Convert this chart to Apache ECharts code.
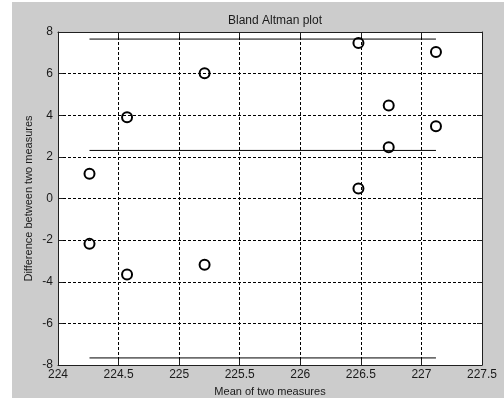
<!DOCTYPE html>
<html>
<head>
<meta charset="utf-8">
<script src="https://cdn.jsdelivr.net/npm/echarts@6/dist/echarts.min.js"></script>
<style>
html,body{margin:0;padding:0;background:#ffffff;}
#wrap{position:relative;width:504px;height:398px;background:#ffffff;}
#chart{position:absolute;left:12px;top:2px;width:492px;height:396px;background:#cccccc;}
</style>
</head>
<body>
<div id="wrap"><div id="chart"></div></div>
<script>
// Data
const means = [224.26, 224.26, 224.57, 224.57, 225.21, 225.21, 226.48, 226.48, 226.73, 226.73, 227.12, 227.12];
const diffs = [1.19, -2.18, 3.90, -3.65, 6.02, -3.18, 7.47, 0.48, 4.47, 2.46, 7.04, 3.47];
const limitNames = ['upper', 'mean', 'lower'];
const limitValues = [7.66, 2.31, -7.66];
const xTicks = [224, 224.5, 225, 225.5, 226, 226.5, 227, 227.5];
const yTicks = [-8, -6, -4, -2, 0, 2, 4, 6, 8];

const FONT = "'Liberation Sans', Arial, sans-serif";
const TXT = '#1a1a1a';
const AX = '#202020';

const points = means.map((m, i) => [m, diffs[i]]);
const xMinData = Math.min(...means);
const xMaxData = Math.max(...means);

const chart = echarts.init(document.getElementById('chart'), null, {renderer: 'canvas'});

const gridLine = {show: true, lineStyle: {color: '#000000', width: 1, type: [3, 2]}};
const axLine = {show: true, onZero: false, lineStyle: {color: AX, width: 1}};
const tick = {show: true, inside: true, length: 5, lineStyle: {color: AX, width: 1}};

const limitSeries = limitValues.map((v, i) => ({
  name: limitNames[i],
  type: 'line',
  xAxisIndex: 0,
  yAxisIndex: 0,
  data: [[xMinData, v], [xMaxData, v]],
  symbol: 'none',
  lineStyle: {color: '#000000', width: 1},
  silent: true,
  z: 2
}));

chart.setOption({
  animation: false,
  backgroundColor: '#cccccc',
  title: {
    text: 'Bland Altman plot',
    left: 258,
    top: 8,
    textAlign: 'center',
    textStyle: {fontFamily: FONT, fontSize: 12, fontWeight: 'normal', color: TXT}
  },
  grid: {
    left: 46, right: 22, top: 30, bottom: 33,
    containLabel: false,
    outerBoundsMode: 'none',
    show: true, backgroundColor: '#ffffff', borderWidth: 0
  },
  xAxis: [{
    type: 'value', position: 'bottom',
    min: xTicks[0], max: xTicks[xTicks.length - 1], interval: 0.5,
    name: 'Mean of two measures', nameLocation: 'middle', nameGap: 21,
    nameMoveOverlap: false,
    nameTextStyle: {fontFamily: FONT, fontSize: 11, color: TXT},
    axisLine: axLine, axisTick: tick,
    axisLabel: {fontFamily: FONT, fontSize: 12, color: TXT, margin: 4,
      showMinLabel: true, showMaxLabel: true},
    splitLine: gridLine
  }, {
    type: 'value', position: 'top',
    min: xTicks[0], max: xTicks[xTicks.length - 1], interval: 0.5,
    axisLine: axLine, axisTick: tick,
    axisLabel: {show: false}, splitLine: {show: false}
  }],
  yAxis: [{
    type: 'value', position: 'left',
    min: yTicks[0], max: yTicks[yTicks.length - 1], interval: 2,
    name: 'Difference between two measures', nameLocation: 'middle', nameGap: 24,
    nameMoveOverlap: false,
    nameTextStyle: {fontFamily: FONT, fontSize: 11, color: TXT},
    axisLine: axLine, axisTick: tick,
    axisLabel: {fontFamily: FONT, fontSize: 12, color: TXT, margin: 5,
      showMinLabel: true, showMaxLabel: true},
    splitLine: gridLine
  }, {
    type: 'value', position: 'right',
    min: yTicks[0], max: yTicks[yTicks.length - 1], interval: 2,
    axisLine: axLine, axisTick: tick,
    axisLabel: {show: false}, splitLine: {show: false}
  }],
  series: limitSeries.concat([{
    name: 'points',
    type: 'scatter',
    xAxisIndex: 0,
    yAxisIndex: 0,
    data: points,
    symbol: 'circle',
    symbolSize: 10,
    itemStyle: {color: 'rgba(0,0,0,0)', borderColor: '#000000', borderWidth: 2, opacity: 1},
    z: 3
  }])
});
</script>
</body>
</html>
